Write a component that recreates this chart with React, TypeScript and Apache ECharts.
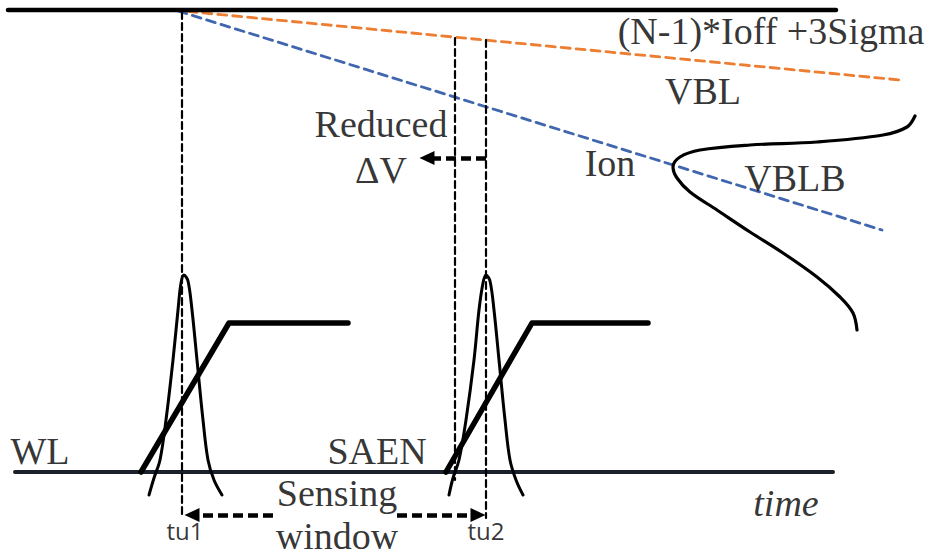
import React, { useEffect, useRef } from "react";
import * as echarts from "echarts";

// Diagram coordinates are in picture units (x to the right, y downward).
const topRail = [[8, 10], [836, 10]];
const bottomRail = [[15, 472], [833, 472]];
const offCurrentLine = [[173, 10], [900, 80]]; // (N-1)*Ioff + 3Sigma, orange
const onCurrentLine = [[178, 11], [882, 230]]; // Ion, blue
const wlRamp = [[141, 472], [229, 323], [348, 323]];
const saenRamp = [[446, 472], [532, 323], [648, 323]];
const wlPulse = [
  [149, 495], [154, 478], [160, 460], [166, 420], [173, 360], [178, 310], [181, 283],
  [184, 275], [188, 281], [192, 310], [197, 360], [203, 420], [208, 460], [214, 480], [222, 495],
];
const saenPulse = [
  [449, 495], [453, 478], [459, 460], [466, 420], [474, 360], [479, 310], [483, 283],
  [486, 275], [490, 281], [494, 310], [499, 360], [505, 420], [510, 460], [516, 480], [523, 495],
];
const vblbCurve = [
  [915, 116], [907, 127], [883, 135], [817, 142], [750, 145], [700, 150], [680, 157],
  [673, 167], [677, 178], [690, 192], [717, 210], [750, 232], [783, 253], [817, 277],
  [840, 297], [853, 313], [857, 330],
];
const guideTu1 = [[182, 12], [182, 518]];
const guideMid = [[455, 38], [455, 480]];
const guideTu2 = [[486, 40], [486, 518]];
// arrows: [from, to]
const arrows = [
  [[486, 158], [427, 158]],
  [[273, 515], [192, 515]],
  [[397, 515], [478, 515]],
];
const serifLabels = [
  { text: "(N-1)*Ioff +3Sigma", x: 771, y: 31 },
  { text: "VBL", x: 703, y: 91 },
  { text: "Reduced", x: 381, y: 124 },
  { text: "ΔV", x: 381, y: 170 },
  { text: "Ion", x: 610, y: 163 },
  { text: "VBLB", x: 795, y: 178 },
  { text: "WL", x: 40, y: 451 },
  { text: "SAEN", x: 377, y: 451 },
  { text: "Sensing", x: 337, y: 493 },
  { text: "window", x: 337, y: 536 },
];
const sansLabels = [
  { text: "tu1", x: 185, y: 530 },
  { text: "tu2", x: 486, y: 530 },
];
const italicLabels = [{ text: "time", x: 786, y: 503 }];

function lineSeries(data: number[][], color: string, width: number, dash?: any, smooth?: boolean) {
  return {
    type: "line",
    data,
    showSymbol: false,
    symbol: "none",
    smooth: smooth ? 0.35 : false,
    silent: true,
    lineStyle: { color, width, type: dash || "solid", cap: "round", join: "round" },
    z: 2,
  };
}

export default function App() {
  const ref = useRef<HTMLDivElement>(null);
  useEffect(() => {
    if (!ref.current) return;
    const chart = echarts.init(ref.current, undefined, { renderer: "svg" });
    const labelData = [
      ...serifLabels.map((l) => ({
        value: [l.x, l.y],
        name: l.text,
        label: { fontFamily: "Liberation Serif", fontSize: 38, color: "#000" },
      })),
      ...sansLabels.map((l) => ({
        value: [l.x, l.y],
        name: l.text,
        label: { fontFamily: "Open Sans", fontSize: 24, color: "#000" },
      })),
      ...italicLabels.map((l) => ({
        value: [l.x, l.y],
        name: l.text,
        label: { fontFamily: "Liberation Serif", fontSize: 38, fontStyle: "italic", color: "#000" },
      })),
    ];
    chart.setOption({
      animation: false,
      backgroundColor: "#fff",
      grid: { left: 0, right: 0, top: 0, bottom: 0 },
      xAxis: { type: "value", min: 0, max: 935, show: false },
      yAxis: { type: "value", min: 0, max: 557, inverse: true, show: false },
      series: [
        lineSeries(offCurrentLine, "#ED7D31", 2.8, [9, 6]),
        lineSeries(onCurrentLine, "#3F66AE", 2.8, [9, 6]),
        lineSeries(topRail, "#000", 4.5),
        lineSeries(bottomRail, "#1a212c", 4),
        lineSeries(guideTu1, "#000", 2.2, [7, 4]),
        lineSeries(guideMid, "#000", 2.2, [7, 4]),
        lineSeries(guideTu2, "#000", 2.2, [7, 4]),
        lineSeries(wlRamp, "#000", 5.5),
        lineSeries(saenRamp, "#000", 5.5),
        lineSeries(wlPulse, "#000", 3, undefined, true),
        lineSeries(saenPulse, "#000", 3, undefined, true),
        lineSeries(vblbCurve, "#000", 3.2, undefined, true),
        {
          type: "line",
          data: [],
          silent: true,
          markLine: {
            silent: true,
            animation: false,
            symbol: ["none", "triangle"],
            symbolSize: [14, 15],
            label: { show: false },
            lineStyle: { color: "#000", width: 4.5, type: [10, 5] },
            emphasis: { disabled: true },
            data: arrows.map((a) => [{ coord: a[0] }, { coord: a[1] }]),
          },
        },
        {
          type: "scatter",
          silent: true,
          symbolSize: 1,
          itemStyle: { color: "rgba(0,0,0,0)" },
          label: { show: true, position: "inside", formatter: "{b}" },
          data: labelData,
          z: 5,
        },
      ],
    });
    return () => chart.dispose();
  }, []);
  return (
    <div
      ref={ref}
      style={{ position: "absolute", left: 0, top: 0, width: 935, height: 557, background: "#fff" }}
    />
  );
}
